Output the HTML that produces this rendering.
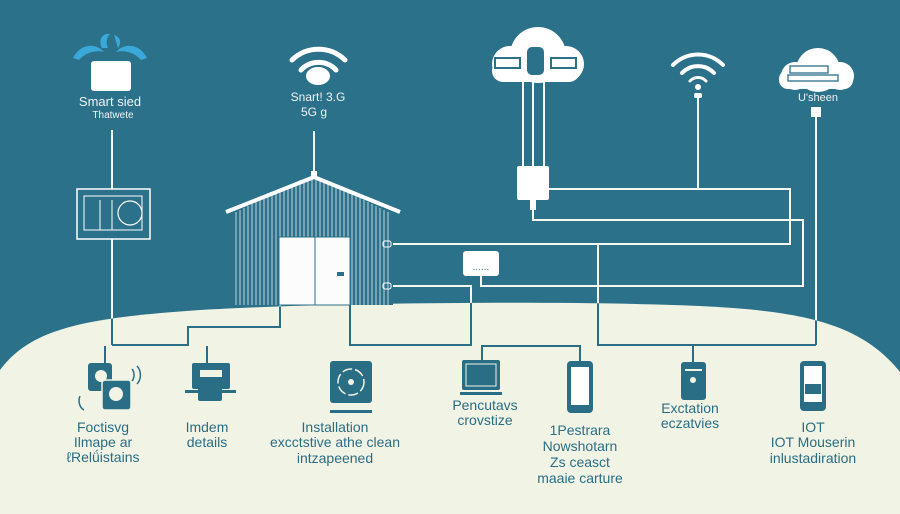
<!DOCTYPE html>
<html><head><meta charset="utf-8"><style>
html,body{margin:0;padding:0;background:#2b718a;}
svg{display:block}
text{font-family:"Liberation Sans",sans-serif}
</style></head><body>
<svg width="900" height="514" viewBox="0 0 900 514" xmlns="http://www.w3.org/2000/svg">
<defs>
<path id="hillp" d="M0,370 C30,330 80,318 200,310 C320,303 560,300 700,306 C800,311 860,322 900,372 L900,514 L0,514 Z"/>
<clipPath id="hillc"><use href="#hillp"/></clipPath>
<g id="L" fill="none">
<line x1="112" y1="130" x2="112" y2="189"/>
<line x1="112" y1="239" x2="112" y2="345"/>
<polyline points="112,345 188,345 188,327 280,327 280,305"/>
<polyline points="350,305 350,345 471,345 471,286 393,286"/>
<line x1="314" y1="131" x2="314" y2="174"/>
<line x1="523" y1="82" x2="523" y2="166"/>
<line x1="533" y1="82" x2="533" y2="166"/>
<line x1="544" y1="82" x2="544" y2="166"/>
<polyline points="549,189 790,189 790,244 393,244"/>
<polyline points="533,200 533,220 803,220 803,286 481,286 481,276"/>
<line x1="698" y1="98" x2="698" y2="189"/>
<polyline points="598,244 598,345 816,345"/>
<line x1="816" y1="116" x2="816" y2="345"/>
</g>
</defs>
<rect width="900" height="514" fill="#2b718a"/>
<use href="#hillp" fill="#f1f3e5"/>

<use href="#L" stroke="#f4f7f2" stroke-width="2"/>
<use href="#L" stroke="#2a6e85" stroke-width="2" clip-path="url(#hillc)"/>
<g stroke="#2a6e85" stroke-width="2" fill="none">
<line x1="105" y1="346" x2="105" y2="364"/>
<line x1="207" y1="346" x2="207" y2="364"/>
<polyline points="482,360 482,346 580,346 580,362"/>
<line x1="693" y1="346" x2="693" y2="362"/>
</g>

<!-- smart device top-left -->
<g fill="#3aa8d8">
<path d="M73,58 C80,44 95,42 104,52 C96,50 86,52 79,60Z"/>
<path d="M147,58 C140,44 125,42 116,52 C124,50 134,52 141,60Z"/>
<path d="M102,48 C98,40 102,33 110,34 C106,38 106,43 108,48Z"/>
<path d="M118,48 C122,42 120,37 114,35"/>
</g>
<rect x="91" y="61" width="40" height="30" rx="3" fill="#fff"/>
<text x="110" y="106" font-size="13" fill="#eef3f4" text-anchor="middle">Smart  sied</text>
<text x="113" y="118" font-size="10" fill="#eef3f4" text-anchor="middle">Thatwete</text>
<rect x="77" y="189" width="73" height="50" fill="none" stroke="#fff" stroke-width="1.5"/>
<rect x="84" y="196" width="58" height="34" fill="none" stroke="#fff" stroke-width="1"/>
<line x1="100" y1="200" x2="100" y2="230" stroke="#fff"/>
<line x1="112" y1="200" x2="112" y2="230" stroke="#fff"/>
<circle cx="130" cy="213" r="12" fill="none" stroke="#fff" stroke-width="1.2"/>

<!-- wifi center -->
<g fill="none" stroke="#fff" stroke-linecap="round">
<path d="M292,60 A38,38 0 0 1 345,60" stroke-width="5"/>
<path d="M301,70 A24,24 0 0 1 336,70" stroke-width="5"/>
</g>
<ellipse cx="318" cy="76" rx="12" ry="9" fill="#fff"/>
<text x="318" y="101" font-size="12" fill="#eef3f4" text-anchor="middle">Snart! 3.G</text>
<text x="314" y="116" font-size="12" fill="#eef3f4" text-anchor="middle">5G g</text>

<!-- barn -->
<rect x="233" y="210" width="160" height="95" fill="#2b718a"/>
<g stroke="#e6eef0" stroke-width="0.8">
<path d="M236,212V305M240,210V305M244,208V305M248,206V305M252,204V305M256,202V305M260,200V305M264,198V305M268,196V305M272,194V305M276,192V305M280,190V305M284,188V305M288,186V305M292,184V305M296,182V305M300,180V305M304,179V305M308,178V305M312,178V305M316,178V305M320,178V305M324,180V305M328,182V305M332,184V305M336,186V305M340,188V305M344,190V305M348,192V305M352,194V305M356,196V305M360,198V305M364,200V305M368,202V305M372,204V305M376,206V305M380,208V305M384,210V305M388,212V305"/>
</g>
<polyline points="226,212 314,177 400,212" fill="none" stroke="#fff" stroke-width="4"/>
<rect x="311" y="171" width="6" height="7" fill="#fff"/>
<rect x="279" y="237" width="71" height="68" fill="#fbfcfb" stroke="#2b718a" stroke-width="1"/>
<line x1="315" y1="237" x2="315" y2="305" stroke="#2b718a" stroke-width="1"/>
<rect x="337" y="272" width="7" height="4" fill="#2b718a"/>
<rect x="383" y="241" width="8" height="6" rx="2" fill="none" stroke="#fff"/>
<rect x="383" y="283" width="8" height="6" rx="2" fill="none" stroke="#fff"/>

<!-- cloud top -->
<g fill="#fff">
<circle cx="538" cy="55" r="28"/>
<circle cx="510" cy="64" r="18"/>
<circle cx="566" cy="64" r="18"/>
<rect x="492" y="60" width="88" height="22" rx="11"/>
</g>
<rect x="527" y="47" width="17" height="28" rx="5" fill="#2b718a"/>
<rect x="495" y="58" width="25" height="10" fill="none" stroke="#2b718a" stroke-width="2"/>
<rect x="551" y="58" width="25" height="10" fill="none" stroke="#2b718a" stroke-width="2"/>
<rect x="517" y="166" width="32" height="34" rx="2" fill="#fff"/>
<rect x="530" y="200" width="6" height="10" fill="#fff"/>
<rect x="463" y="251" width="36" height="25" rx="3" fill="#fff"/>
<text x="481" y="270" font-size="10" fill="#2b718a" text-anchor="middle">......</text>

<!-- wifi right -->
<g fill="none" stroke="#fff" stroke-linecap="round">
<path d="M673,65 A35,35 0 0 1 723,65" stroke-width="4"/>
<path d="M682,73 A22,22 0 0 1 714,73" stroke-width="4"/>
<path d="M690,81 A11,11 0 0 1 706,81" stroke-width="3"/>
</g>
<circle cx="698" cy="87" r="3" fill="#fff"/>
<rect x="694" y="93" width="8" height="5" rx="2" fill="#fff"/>

<!-- cloud right -->
<g fill="#fff">
<circle cx="818" cy="70" r="22"/>
<circle cx="795" cy="76" r="14"/>
<circle cx="840" cy="76" r="14"/>
<rect x="779" y="70" width="74" height="19" rx="9"/>
</g>
<rect x="790" y="66" width="38" height="7" fill="none" stroke="#2b718a" stroke-width="1.3"/>
<rect x="788" y="75" width="50" height="6" fill="none" stroke="#2b718a" stroke-width="1.3"/>
<text x="818" y="101" font-size="11" fill="#eef3f4" text-anchor="middle">U'sheen</text>
<rect x="811" y="107" width="10" height="10" fill="#fff"/>

<!-- bottom icons -->
<g fill="#2a6e85">
<rect x="88" y="363" width="24" height="28" rx="3"/>
<rect x="102" y="380" width="29" height="30" rx="3" stroke="#f1f3e5" stroke-width="1.5"/>
<circle cx="116" cy="394" r="7" fill="#f1f3e5"/>
<circle cx="101" cy="376" r="6" fill="#f1f3e5"/>
<rect x="192" y="363" width="38" height="26" rx="2"/>
<rect x="200" y="370" width="22" height="7" fill="#f1f3e5"/>
<rect x="185" y="390" width="51" height="3"/>
<rect x="198" y="383" width="24" height="18" rx="2"/>
<rect x="330" y="361" width="42" height="42" rx="3"/>
<rect x="330" y="410" width="42" height="3"/>
<rect x="462" y="360" width="38" height="30" rx="2"/>
<rect x="460" y="392" width="42" height="3"/>
<rect x="567" y="361" width="26" height="52" rx="4"/>
<rect x="681" y="362" width="25" height="38" rx="3"/>
<rect x="800" y="361" width="26" height="50" rx="4"/>
</g>
<g fill="none" stroke="#2a6e85" stroke-width="1.5">
<path d="M137,366 A10,12 0 0 1 137,384"/>
<path d="M132,369 A6,8 0 0 1 132,381"/>
<path d="M80,396 A8,10 0 0 0 84,410"/>
</g>
<circle cx="351" cy="382" r="13" fill="none" stroke="#f1f3e5" stroke-width="1.5" stroke-dasharray="10 3"/>
<circle cx="351" cy="382" r="3" fill="#f1f3e5"/>
<rect x="466" y="364" width="30" height="22" fill="none" stroke="#f1f3e5" stroke-width="1"/>
<rect x="571" y="367" width="18" height="38" fill="#fff"/>
<rect x="685" y="369" width="17" height="2" fill="#f1f3e5"/>
<circle cx="693" cy="380" r="3" fill="#f1f3e5"/>
<rect x="804" y="366" width="18" height="36" fill="#fff"/>
<rect x="805" y="384" width="16" height="10" fill="#2a6e85"/>

<g font-size="14" fill="#2a6e85" text-anchor="middle">
<text x="103" y="432">Foctisvg</text>
<text x="103" y="447">Ilmape ar</text>
<text x="103" y="462">ℓRelǘistains</text>
<text x="207" y="432">Imdem</text>
<text x="207" y="447">details</text>
<text x="335" y="432">Installation</text>
<text x="335" y="447">excctstive athe clean</text>
<text x="335" y="463">intzapeened</text>
<text x="485" y="410">Pencutavs</text>
<text x="485" y="425">crovstize</text>
<text x="580" y="435">1Pestrara</text>
<text x="580" y="451">Nowshotarn</text>
<text x="580" y="467">Zs ceasct</text>
<text x="580" y="483">maaie carture</text>
<text x="690" y="413">Exctation</text>
<text x="690" y="428">eczatvies</text>
<text x="813" y="432">IOT</text>
<text x="813" y="447">IOT Mouserin</text>
<text x="813" y="463">inlustadiration</text>
</g>
</svg>
</body></html>
